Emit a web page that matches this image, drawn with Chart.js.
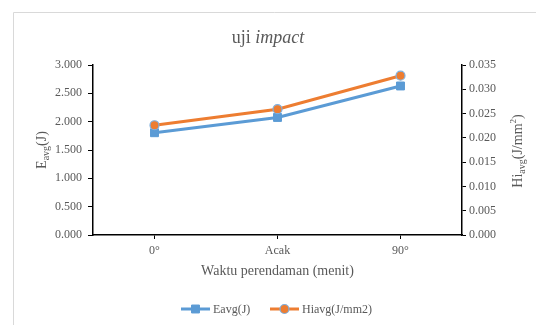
<!DOCTYPE html>
<html>
<head>
<meta charset="utf-8">
<script src="https://cdn.jsdelivr.net/npm/chart.js@4/dist/chart.umd.min.js"></script>
<style>
  html, body { margin: 0; padding: 0; background: #fff; }
  #wrap { position: relative; width: 536px; height: 325px; }
  canvas { display: block; }
</style>
</head>
<body>
<div id="wrap"><canvas id="c" width="536" height="325"></canvas></div>
<script>
// Soaking time categories and averaged impact results
const categories = ['0°', 'Acak', '90°'];
const eavg = [1.805, 2.075, 2.63];        // Eavg (J)
const hiavg = [0.0226, 0.0259, 0.0328];    // Hiavg (J/mm2)
const leftTicks = [0, 0.5, 1, 1.5, 2, 2.5, 3];
const rightTicks = [0, 0.005, 0.01, 0.015, 0.02, 0.025, 0.03, 0.035];

const BLUE = '#5B9BD5';
const ORANGE = '#ED7D31';
const TEXT = '#595959';
const SERIF = '"Liberation Serif", "Times New Roman", serif';

// Draws the frame, title, rotated axis titles (with sub/superscripts) and legend
const decorations = {
  id: 'decorations',
  afterDraw(chart) {
    const ctx = chart.ctx;
    const area = chart.chartArea;
    ctx.save();

    // outer frame
    ctx.strokeStyle = '#d9d9d9';
    ctx.lineWidth = 1;
    ctx.beginPath();
    ctx.moveTo(13.5, 325);
    ctx.lineTo(13.5, 12.5);
    ctx.lineTo(536, 12.5);
    ctx.stroke();

    ctx.fillStyle = TEXT;
    ctx.textBaseline = 'alphabetic';

    // title: "uji" upright, "impact" italic
    const tA = 'uji ', tB = 'impact';
    ctx.font = '18px ' + SERIF;
    const wA = ctx.measureText(tA).width;
    ctx.font = 'italic 18px ' + SERIF;
    const wB = ctx.measureText(tB).width;
    const tx = 268 - (wA + wB) / 2;
    ctx.font = '18px ' + SERIF;
    ctx.fillText(tA, tx, 43);
    ctx.font = 'italic 18px ' + SERIF;
    ctx.fillText(tB, tx + wA, 43);

    // helper: draw runs of text with optional sub/superscript along a rotated baseline
    function runs(parts, cx, cy) {
      let total = 0;
      parts.forEach(p => {
        ctx.font = p.size + 'px ' + SERIF;
        p.w = ctx.measureText(p.t).width;
        total += p.w;
      });
      ctx.save();
      ctx.translate(cx, cy);
      ctx.rotate(-Math.PI / 2);
      let x = -total / 2;
      parts.forEach(p => {
        ctx.font = p.size + 'px ' + SERIF;
        ctx.fillText(p.t, x, 5 + (p.dy || 0));
        x += p.w;
      });
      ctx.restore();
    }

    runs([
      { t: 'E', size: 14 },
      { t: 'avg', size: 10, dy: 3 },
      { t: '(J)', size: 14 }
    ], 41, 150);

    runs([
      { t: 'Hi', size: 14 },
      { t: 'avg', size: 10, dy: 3 },
      { t: '(J/mm', size: 14 },
      { t: '2', size: 9, dy: -6 },
      { t: ')', size: 14 }
    ], 517, 151);

    // x-axis title
    ctx.font = '14px ' + SERIF;
    ctx.textAlign = 'center';
    ctx.fillText('Waktu perendaman (menit)', (area.left + area.right) / 2, 275);

    // legend: line sample with its marker, then the label
    ctx.textAlign = 'left';
    ctx.font = '12px ' + SERIF;
    const ly = 309;
    const items = [
      { x: 181, label: 'Eavg(J)', ds: chart.data.datasets[0] },
      { x: 270, label: 'Hiavg(J/mm2)', ds: chart.data.datasets[1] }
    ];
    items.forEach(it => {
      ctx.strokeStyle = it.ds.borderColor;
      ctx.lineWidth = 3;
      ctx.lineCap = 'butt';
      ctx.beginPath();
      ctx.moveTo(it.x, ly);
      ctx.lineTo(it.x + 29, ly);
      ctx.stroke();
      ctx.fillStyle = it.ds.pointBackgroundColor;
      ctx.strokeStyle = it.ds.pointBorderColor;
      ctx.lineWidth = it.ds.pointBorderWidth;
      ctx.beginPath();
      if (it.ds.pointStyle === 'rect') {
        const s = Math.SQRT1_2 * it.ds.pointRadius;
        ctx.rect(it.x + 14.5 - s, ly - s, 2 * s, 2 * s);
      } else {
        ctx.arc(it.x + 14.5, ly, it.ds.pointRadius, 0, Math.PI * 2);
      }
      ctx.fill();
      ctx.stroke();
      ctx.fillStyle = TEXT;
      ctx.fillText(it.label, it.x + 32, ly + 4);
    });

    ctx.restore();
  }
};

new Chart(document.getElementById('c'), {
  type: 'line',
  data: {
    labels: categories,
    datasets: [
      {
        label: 'Eavg(J)',
        data: eavg,
        yAxisID: 'y',
        borderColor: BLUE,
        backgroundColor: BLUE,
        borderWidth: 3,
        pointStyle: 'rect',
        pointRadius: 5.6,
        pointBackgroundColor: BLUE,
        pointBorderColor: BLUE,
        pointBorderWidth: 1,
        tension: 0,
        order: 2
      },
      {
        label: 'Hiavg(J/mm2)',
        data: hiavg,
        yAxisID: 'y2',
        borderColor: ORANGE,
        backgroundColor: ORANGE,
        borderWidth: 3,
        pointStyle: 'circle',
        pointRadius: 4.5,
        pointBackgroundColor: ORANGE,
        pointBorderColor: '#7fb0e0',
        pointBorderWidth: 1.2,
        tension: 0,
        order: 1
      }
    ]
  },
  options: {
    responsive: false,
    animation: false,
    devicePixelRatio: 1,
    layout: { padding: { left: 0, right: 0, top: 65, bottom: 60 } },
    plugins: {
      legend: { display: false },
      title: { display: false },
      tooltip: { enabled: false }
    },
    scales: {
      x: {
        type: 'category',
        offset: true,
        afterFit(s) { s.height = 30; },
        grid: {
          offset: false,
          drawOnChartArea: false,
          drawTicks: true,
          tickLength: 4,
          tickColor: '#000'
        },
        border: { color: '#000', width: 1.5 },
        ticks: {
          color: TEXT,
          font: { family: SERIF, size: 12 },
          padding: 5,
          maxRotation: 0
        }
      },
      y: {
        position: 'left',
        min: 0,
        max: 3,
        afterFit(s) { s.width = 93; },
        afterBuildTicks(s) { s.ticks = leftTicks.map(v => ({ value: v })); },
        grid: { drawOnChartArea: false, tickLength: 5, tickColor: '#000' },
        border: { color: '#000', width: 1.5 },
        ticks: {
          color: TEXT,
          font: { family: SERIF, size: 12 },
          padding: 6,
          callback: v => Number(v).toFixed(3)
        }
      },
      y2: {
        position: 'right',
        min: 0,
        max: 0.035,
        afterFit(s) { s.width = 74; },
        afterBuildTicks(s) { s.ticks = rightTicks.map(v => ({ value: v })); },
        grid: { drawOnChartArea: false, tickLength: 4, tickColor: '#000' },
        border: { color: '#000', width: 1.5 },
        ticks: {
          color: TEXT,
          font: { family: SERIF, size: 12 },
          padding: 3,
          callback: v => Number(v).toFixed(3)
        }
      }
    }
  },
  plugins: [decorations]
});
</script>
</body>
</html>
